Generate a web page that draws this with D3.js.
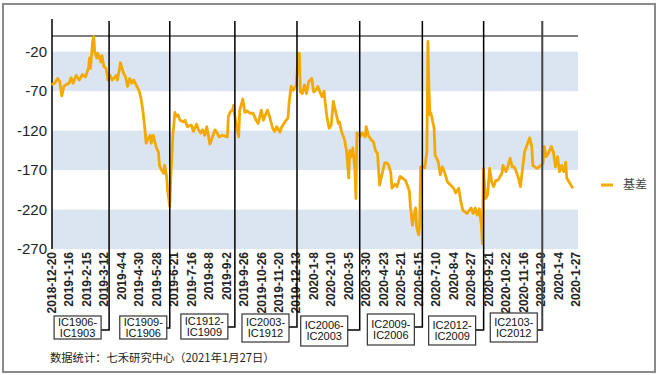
<!DOCTYPE html>
<meta charset="utf-8">
<script src="https://d3js.org/d3.v7.min.js"></script>
<style>
  body { margin: 0; background: #fff; }
  svg { font-family: Arial, "Liberation Sans", sans-serif; }
</style>
<div id="chart"></div>
<script>
// x tick labels (one every 17 trading days)
var tickLabels = ["2018-12-20","2019-1-16","2019-2-15","2019-3-12","2019-4-4","2019-4-30","2019-5-28",
  "2019-6-21","2019-7-16","2019-8-8","2019-9-2","2019-9-26","2019-10-26","2019-11-20","2019-12-13",
  "2020-1-8","2020-2-10","2020-3-5","2020-3-30","2020-4-23","2020-5-21","2020-6-15","2020-7-10",
  "2020-8-4","2020-8-27","2020-9-21","2020-10-22","2020-11-16","2020-12-9","2020-1-4","2020-1-27"];
var tickStep = 17;
var yTicks = [-270, -220, -170, -120, -70, -20];

// basis series: [trading day index, value]
var basis = [[0,-62],[3,-60],[6,-54],[8,-58],[10,-76],[12,-64],[14,-62],[17,-60],[19,-53],[21,-60],
  [24,-50],[27,-56],[30,-49],[33,-52],[36,-41],[37,-28],[38,-41],[40,-7],[41,-1],[42,-20],[44,-28],
  [45,-22],[48,-33],[49,-25],[51,-39],[53,-41],[55,-56],[57,-50],[59,-56],[63,-50],[64,-56],[66,-43],
  [67,-34],[70,-47],[72,-52],[74,-64],[76,-54],[78,-60],[80,-56],[83,-64],[85,-69],[87,-79],[89,-96],
  [91,-121],[92,-136],[94,-130],[96,-126],[97,-136],[99,-126],[102,-142],[104,-147],[105,-164],
  [107,-170],[109,-174],[110,-164],[112,-178],[113,-197],[115,-216],[116,-180],[118,-126],[120,-97],
  [121,-102],[123,-100],[125,-107],[128,-109],[130,-107],[132,-115],[136,-113],[138,-121],[141,-112],
  [143,-119],[145,-123],[147,-119],[149,-126],[151,-115],[154,-137],[156,-130],[159,-119],[161,-123],
  [163,-128],[166,-126],[171,-128],[172,-102],[174,-96],[176,-94],[177,-88],[178,-100],[180,-115],
  [182,-128],[183,-94],[186,-80],[188,-97],[190,-95],[193,-98],[196,-98],[199,-107],[201,-111],
  [204,-94],[206,-107],[208,-100],[210,-94],[212,-102],[215,-117],[217,-121],[219,-115],[222,-122],
  [224,-115],[227,-109],[230,-104],[231,-85],[233,-64],[235,-69],[238,-62],[239,-41],[241,-22],
  [242,-71],[244,-73],[246,-62],[248,-73],[250,-58],[253,-54],[255,-71],[257,-69],[259,-64],[261,-71],
  [263,-77],[265,-70],[266,-83],[268,-104],[270,-117],[272,-113],[274,-83],[277,-100],[279,-111],
  [280,-109],[282,-121],[284,-128],[285,-132],[287,-147],[289,-180],[290,-145],[292,-153],[293,-142],
  [295,-168],[296,-206],[297,-123],[300,-128],[302,-123],[305,-128],[306,-115],[308,-126],[311,-132],
  [313,-134],[315,-145],[317,-149],[319,-189],[322,-172],[324,-161],[326,-161],[328,-164],[330,-174],
  [331,-193],[334,-188],[336,-191],[339,-178],[341,-180],[344,-183],[346,-189],[348,-197],[349,-216],
  [351,-240],[352,-231],[354,-218],[355,-242],[357,-252],[358,-240],[359,-166],[361,-166],[363,-167],
  [365,-147],[366,-7],[367,-66],[368,-100],[369,-98],[372,-117],[373,-151],[376,-159],[378,-176],
  [380,-166],[382,-172],[385,-185],[388,-189],[391,-193],[393,-199],[396,-193],[398,-210],[400,-221],
  [404,-225],[408,-218],[410,-225],[412,-218],[414,-227],[416,-219],[418,-240],[419,-263],[420,-168],
  [422,-206],[424,-202],[426,-168],[428,-185],[430,-191],[432,-183],[434,-183],[438,-174],[439,-164],
  [442,-172],[444,-164],[446,-155],[448,-166],[450,-166],[452,-172],[454,-180],[456,-191],[458,-168],
  [460,-147],[463,-136],[465,-129],[467,-140],[468,-164],[472,-168],[476,-164],[478,-161],[479,-140],
  [481,-153],[483,-149],[486,-140],[488,-147],[490,-166],[492,-153],[494,-172],[496,-164],[498,-172],
  [500,-160],[501,-180],[505,-189],[507,-193]];

// contract roll annotations (trading day index of each vertical line)
var rollIdx = [56, 115, 178.3, 238.7, 299.7, 360.6, 420.2, 477.2];
var rollLabels = [["IC1906-","IC1903"],["IC1909-","IC1906"],["IC1912-","IC1909"],["IC2003-","IC1912"],
  ["IC2006-","IC2003"],["IC2009-","IC2006"],["IC2012-","IC2009"],["IC2103-","IC2012"]];
// callout box layout: gap to line, top, height ; elbow y
var boxLayout = [[8,316,23],[3,316,23],[7,314,25],[8,314,28],[12,316,30],[8,314,31],[8,316,29],[5,313,29]];
var elbowY = [330, 328, 327, 327, 330, 327, 330, 330];

var W = 658, H = 375;
var svg = d3.select("#chart").append("svg").attr("width", W).attr("height", H);

svg.append("rect").attr("x", 3).attr("y", 4).attr("width", 652).attr("height", 368)
  .attr("fill", "#fff").attr("stroke", "#8a8a8a").attr("stroke-width", 2);

var x = d3.scaleLinear().domain([0, (tickLabels.length - 1) * tickStep]).range([51.5, 576]);
var y = d3.scaleLinear().domain([-270, 0]).range([249, 35.9]);
var left = 52, right = 578;

// alternating bands
var bands = [[-270, -220], [-170, -120], [-70, -20]];
svg.selectAll(".band").data(bands).enter().append("rect")
  .attr("x", left).attr("width", right - left)
  .attr("y", function (d) { return y(d[1]); })
  .attr("height", function (d) { return y(d[0]) - y(d[1]); })
  .attr("fill", "#dae5f1");

// zero line at top
svg.append("line").attr("x1", left).attr("x2", right).attr("y1", y(0)).attr("y2", y(0))
  .attr("stroke", "#555").attr("stroke-width", 1.5);

// y labels
svg.selectAll(".ytick").data(yTicks).enter().append("text")
  .attr("x", 47).attr("y", function (d) { return y(d); }).attr("dy", "0.35em")
  .attr("text-anchor", "end").attr("font-size", 15).attr("fill", "#222")
  .text(function (d) { return d; });

// x labels
svg.selectAll(".xtick").data(tickLabels).enter().append("text")
  .attr("transform", function (d, i) { return "translate(" + x(i * tickStep) + ",252) rotate(-90)"; })
  .attr("dy", "0.35em").attr("text-anchor", "end")
  .attr("font-size", 12).attr("font-weight", "bold").attr("fill", "#222")
  .text(function (d) { return d; });

// left axis line
svg.append("line").attr("x1", left).attr("x2", left).attr("y1", 19).attr("y2", 249)
  .attr("stroke", "#000").attr("stroke-width", 1.5);

// basis line
var line = d3.line().x(function (d) { return x(d[0]); }).y(function (d) { return y(d[1]); });
svg.append("path").datum(basis).attr("d", line).attr("fill", "none")
  .attr("stroke", "#f4a900").attr("stroke-width", 2.8).attr("stroke-linejoin", "round");

// roll callouts
rollIdx.forEach(function (r, i) {
  var lx = x(r), b = boxLayout[i];
  var bw = 47, bx = lx - b[0] - bw;
  svg.append("polyline")
    .attr("points", [[lx, 21], [lx, elbowY[i]], [bx + bw, elbowY[i]]].map(function (p) { return p.join(","); }).join(" "))
    .attr("fill", "none").attr("stroke", i == 7 ? "#444" : "#000").attr("stroke-width", i == 7 ? 2 : 1.5);
  svg.append("rect").attr("x", bx).attr("y", b[1]).attr("width", bw).attr("height", b[2])
    .attr("fill", "#fff").attr("stroke", "#333").attr("stroke-width", 1.2);
  rollLabels[i].forEach(function (t, j) {
    svg.append("text").attr("x", bx + bw / 2).attr("y", b[1] + b[2] / 2 + (j ? 5.5 : -5.5))
      .attr("dy", "0.35em").attr("text-anchor", "middle").attr("font-size", 11).attr("fill", "#111")
      .text(t);
  });
});

// legend
svg.append("line").attr("x1", 601).attr("x2", 613).attr("y1", 185).attr("y2", 185)
  .attr("stroke", "#f4a900").attr("stroke-width", 3);
svg.append("text").attr("x", 623).attr("y", 185).attr("dy", "0.35em")
  .attr("font-family", "'Noto Sans CJK SC'").attr("font-size", 12).attr("fill", "#444").text("基差");

// source note
svg.append("text").attr("x", 50).attr("y", 358).attr("dy", "0.35em")
  .attr("font-family", "'Noto Sans CJK SC'").attr("font-size", 11.3).attr("fill", "#222")
  .text("数据统计：七禾研究中心（2021年1月27日）");
</script>
